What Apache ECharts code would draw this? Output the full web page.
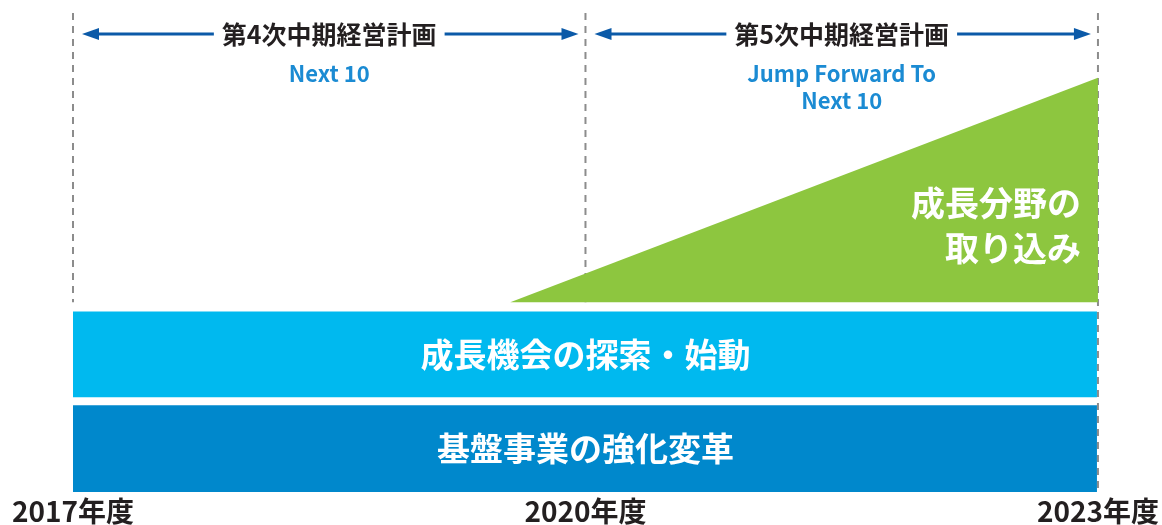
<!DOCTYPE html>
<html>
<head>
<meta charset="utf-8">
<script src="https://cdn.jsdelivr.net/npm/echarts@6/dist/echarts.min.js"></script>
<style>
html, body { margin: 0; padding: 0; background: #fff; }
#container { width: 1162px; height: 525px; }
</style>
</head>
<body>
<div id="container"></div>
<script>
var FONT = '"Noto Sans CJK JP", "Noto Sans", sans-serif';
var baseYear = 2017;

// 中期経営計画の期間
var periodNames = ['第4次中期経営計画', '第5次中期経営計画'];
var periodSubs = ['Next 10', 'Jump Forward To\nNext 10'];
var periodStart = [2017, 2020];
var periodEnd = [2020, 2023];

// 年度の区切り
var tickYears = [2017, 2020, 2023];
var dividerBottom = [39.6, 39.6, 0];

// 帯(下から)
var bandNames = ['基盤事業の強化変革', '成長機会の探索・始動'];
var bandLow = [0, 19.8];
var bandHigh = [18.1, 37.7];

// 成長分野の三角形
var growthName = '成長分野の\n取り込み';
var growthX = [2019.56, 2023, 2023];
var growthY = [39.6, 39.6, 86.5];

var dom = document.getElementById('container');
var myChart = echarts.init(dom);

var bandColors = ['#0088cc', '#00b9ef'];

var option = {
    animation: false,
    grid: { left: 73, right: 64, top: 13, bottom: 32 },
    xAxis: {
        type: 'value',
        min: 0,
        max: 6,
        interval: 3,
        axisLine: { show: false },
        axisTick: { show: false },
        splitLine: { show: false },
        axisLabel: {
            showMinLabel: true,
            showMaxLabel: true,
            margin: 5,
            color: '#231f20',
            fontSize: 28,
            fontWeight: 'bold',
            fontFamily: FONT,
            formatter: function (v) { return (baseYear + v) + '年度'; }
        }
    },
    yAxis: { type: 'value', min: 0, max: 100, show: false },
    series: [
        {
            // 帯
            type: 'custom',
            z: 1,
            data: bandNames.map(function (n, i) {
                return [0, tickYears[2] - baseYear, bandLow[i], bandHigh[i], i];
            }),
            renderItem: function (params, api) {
                var i = api.value(4);
                var p0 = api.coord([api.value(0), api.value(3)]);
                var p1 = api.coord([api.value(1), api.value(2)]);
                return {
                    type: 'group',
                    children: [
                        {
                            type: 'rect',
                            shape: { x: p0[0], y: p0[1], width: p1[0] - p0[0] - 1, height: p1[1] - p0[1] },
                            style: { fill: bandColors[i] }
                        },
                        {
                            type: 'text',
                            x: (p0[0] + p1[0]) / 2,
                            y: (p0[1] + p1[1]) / 2,
                            style: {
                                text: bandNames[i],
                                fill: '#fff',
                                fontSize: 33,
                                fontWeight: 'bold',
                                fontFamily: FONT,
                                align: 'center',
                                verticalAlign: 'middle'
                            }
                        }
                    ]
                };
            }
        },
        {
            // 区切りの破線
            type: 'custom',
            z: 2,
            data: tickYears.map(function (y, i) { return [y - baseYear, dividerBottom[i]]; }),
            renderItem: function (params, api) {
                var p0 = api.coord([api.value(0), 100]);
                var p1 = api.coord([api.value(0), api.value(1)]);
                return {
                    type: 'line',
                    shape: { x1: p0[0], y1: p0[1], x2: p1[0], y2: p1[1] },
                    style: { stroke: '#8c8c8c', lineWidth: 2, lineDash: [7, 6] }
                };
            }
        },
        {
            // 成長分野
            type: 'custom',
            z: 3,
            data: [[0]],
            renderItem: function (params, api) {
                var pts = growthX.map(function (x, i) { return api.coord([x - baseYear, growthY[i]]); });
                var right = pts[1][0];
                var mid = api.coord([0, 55.7]);
                return {
                    type: 'group',
                    children: [
                        {
                            type: 'polygon',
                            shape: { points: pts },
                            style: { fill: '#8dc63f' }
                        },
                        {
                            type: 'text',
                            x: right - 17,
                            y: mid[1],
                            style: {
                                text: growthName,
                                fill: '#fff',
                                fontSize: 34,
                                fontWeight: 'bold',
                                fontFamily: FONT,
                                lineHeight: 45,
                                align: 'right',
                                verticalAlign: 'middle'
                            }
                        }
                    ]
                };
            }
        },
        {
            // 期間の矢印と名称
            type: 'custom',
            z: 4,
            data: periodNames.map(function (n, i) {
                return [periodStart[i] - baseYear, periodEnd[i] - baseYear, i];
            }),
            renderItem: function (params, api) {
                var i = api.value(2);
                var p0 = api.coord([api.value(0), 95.6]);
                var p1 = api.coord([api.value(1), 95.6]);
                var sub = api.coord([0, 90.2]);
                var y = p0[1];
                var xl = p0[0] + 9, xr = p1[0] - 7;
                var cx = (p0[0] + p1[0]) / 2;
                var blue = '#0b5aa8';
                return {
                    type: 'group',
                    children: [
                        {
                            type: 'line',
                            shape: { x1: xl + 10, y1: y, x2: xr - 10, y2: y },
                            style: { stroke: blue, lineWidth: 3 }
                        },
                        {
                            type: 'polygon',
                            shape: { points: [[xl, y], [xl + 17, y - 6], [xl + 17, y + 6]] },
                            style: { fill: blue }
                        },
                        {
                            type: 'polygon',
                            shape: { points: [[xr, y], [xr - 17, y - 6], [xr - 17, y + 6]] },
                            style: { fill: blue }
                        },
                        {
                            type: 'text',
                            x: cx,
                            y: y,
                            style: {
                                text: periodNames[i],
                                fill: '#231f20',
                                fontSize: 25,
                                fontWeight: 'bold',
                                fontFamily: FONT,
                                align: 'center',
                                verticalAlign: 'middle',
                                backgroundColor: '#fff',
                                padding: [2, 8]
                            }
                        },
                        {
                            type: 'text',
                            x: cx,
                            y: sub[1],
                            style: {
                                text: periodSubs[i],
                                fill: '#1b8bd3',
                                fontSize: 22,
                                fontWeight: 'bold',
                                fontFamily: FONT,
                                lineHeight: 27,
                                align: 'center',
                                verticalAlign: 'top'
                            }
                        }
                    ]
                };
            }
        }
    ]
};

if (option && typeof option === 'object') {
    myChart.setOption(option);
}
</script>
</body>
</html>
